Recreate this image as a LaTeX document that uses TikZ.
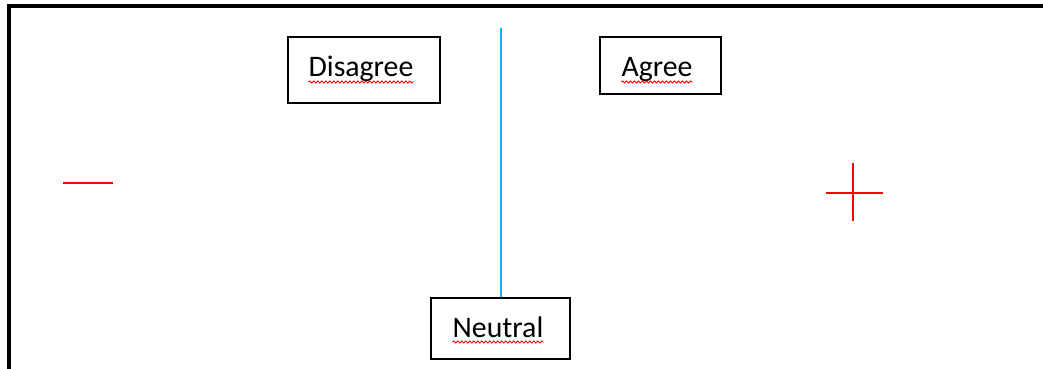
\documentclass[tikz,border=0pt]{standalone}
\usepackage{fontspec}
\setmainfont{Carlito}
\usetikzlibrary{decorations.pathmorphing}
\definecolor{axisblue}{RGB}{0,176,240}
\definecolor{signred}{RGB}{255,0,0}
\begin{document}
\begin{tikzpicture}[x=1pt,y=-1pt,
  box/.style={draw=black, line width=2pt, inner sep=0pt},
  word/.style={inner sep=0pt, anchor=base, font=\fontsize{29.8}{34}\selectfont},
  spell/.style={draw=signred, line width=0.9pt,
    decorate, decoration={snake, segment length=4pt, amplitude=1pt}},
  sign/.style={draw=signred, line width=2.5pt},
  axis/.style={draw=axisblue, line width=2pt}]
\useasboundingbox (0,0) rectangle (1043,369);
\fill[white] (0,0) rectangle (1043,369);
% outer frame (top and left edges)
\draw[line width=4pt] (9,369) -- (9,6) -- (1043,6);

% labelled boxes
\node[box, minimum width=152pt, minimum height=66pt] (disagree) at (364,70) {};
\node[box, minimum width=121pt, minimum height=57pt] (agree) at (660.5,65.5) {};
\node[box, minimum width=139pt, minimum height=61pt] (neutral) at (500.5,328.5) {};

\node[word] (tdis) at (361,77) {Disagree};
\node[word] (tagr) at (657,77) {Agree};
\node[word] (tneu) at (498,337) {Neutral};

% spell-check underlines
\draw[spell] ([yshift=-5pt]tdis.base west) -- ([yshift=-5pt]tdis.base east);
\draw[spell] ([yshift=-5pt]tagr.base west) -- ([yshift=-5pt]tagr.base east);
\draw[spell] ([yshift=-5pt]tneu.base west) -- ([yshift=-5pt]tneu.base east);

% neutral axis
\coordinate (axistop) at (501,28);
\draw[axis] (neutral.north -| axistop) -- (axistop);

% minus sign
\coordinate (mL) at (63,183);
\coordinate (mR) at (113,183);
\draw[sign] (mL) -- (mR);

% plus sign
\coordinate (pL) at (826,193);
\coordinate (pR) at (883,193);
\coordinate (pT) at (853,163);
\coordinate (pB) at (853,221);
\draw[sign] (pL) -- (pR);
\draw[sign] (pT) -- (pB);
\end{tikzpicture}
\end{document}
